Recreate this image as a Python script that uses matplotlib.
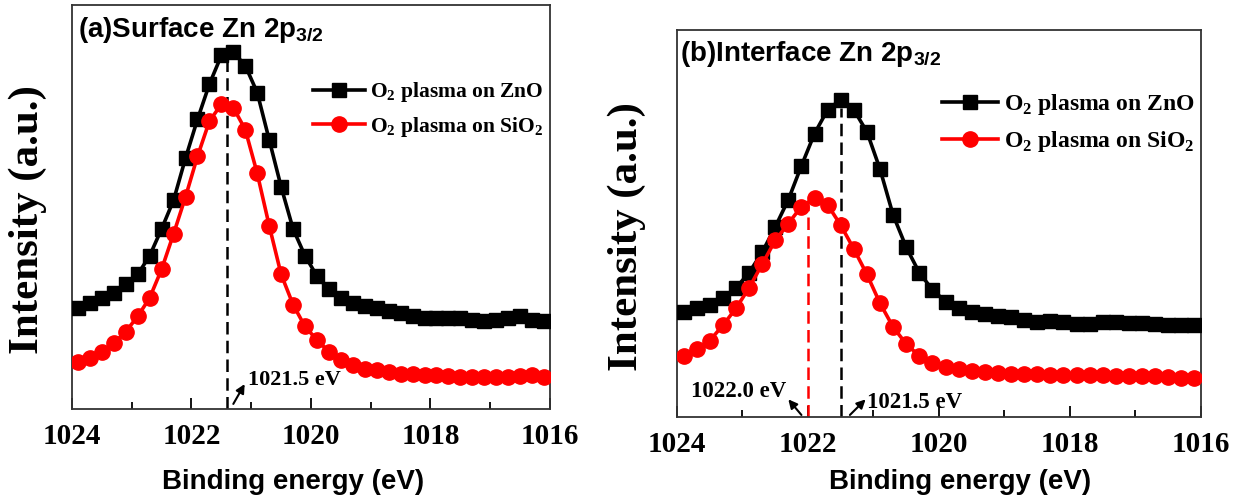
import numpy as np
import matplotlib
matplotlib.use('Agg')
import matplotlib.pyplot as plt

# binding energy grid (eV), 0.2 eV step
energy = np.arange(1023.9, 1016.0, -0.2)

# (a) surface Zn 2p3/2
surf_zno = [300, 315, 330, 345, 370, 400, 455, 535, 620, 745, 860, 965, 1050, 1060, 1020, 940,
            800, 660, 535, 455, 395, 355, 330, 315, 305, 300, 290, 285, 275, 270, 270, 270,
            270, 265, 260, 265, 270, 275, 265, 260]
surf_sio2 = [140, 150, 170, 195, 230, 275, 330, 415, 520, 630, 750, 855, 905, 895, 830, 700,
             545, 400, 310, 245, 205, 170, 145, 130, 120, 115, 110, 105, 105, 100, 100, 97,
             95, 95, 95, 95, 95, 97, 100, 95]

# (b) interface Zn 2p3/2
int_zno = [310, 320, 330, 350, 380, 425, 485, 560, 640, 740, 835, 905, 935, 905, 840, 730,
           595, 500, 425, 375, 340, 320, 308, 302, 298, 295, 285, 280, 282, 280, 275, 275,
           280, 280, 277, 277, 273, 270, 270, 270]
int_sio2 = [180, 200, 225, 270, 320, 380, 450, 520, 570, 620, 645, 625, 565, 495, 420, 335,
            265, 215, 180, 160, 148, 140, 135, 132, 130, 128, 127, 126, 125, 125, 124, 123,
            123, 122, 122, 120, 120, 118, 115, 115]

labels = ['O$_\\mathdefault{2}$ plasma on ZnO', 'O$_\\mathdefault{2}$ plasma on SiO$_\\mathdefault{2}$']
xticks = [1024, 1022, 1020, 1018, 1016]

serif = 'Liberation Serif'
sans = 'Liberation Sans'

fig = plt.figure(figsize=(12.39, 4.99), dpi=100)
ax1 = fig.add_axes([0.0581, 0.1804, 0.3858, 0.8096])
ax2 = fig.add_axes([0.5464, 0.1643, 0.4229, 0.7756])

arrow = dict(arrowstyle='-|>', color='black', lw=1.5, mutation_scale=13, shrinkA=0, shrinkB=0)


def style(ax, ymax):
    ax.set_xlim(1024, 1016)
    ax.set_ylim(0, ymax)
    ax.set_xticks(xticks)
    ax.set_xticks(np.arange(1023, 1016, -2), minor=True)
    ax.set_yticks([])
    ax.tick_params(axis='x', which='major', direction='in', length=8, width=1.3, pad=10)
    ax.tick_params(axis='x', which='minor', direction='in', length=5, width=1.3)
    for lab in ax.get_xticklabels():
        lab.set_fontfamily(serif)
        lab.set_fontweight('bold')
        lab.set_fontsize(21)
    for s in ax.spines.values():
        s.set_linewidth(1.3)
        s.set_color('#333333')


def draw(ax, y1, y2):
    ax.plot(energy, y1, color='black', lw=2.6, marker='s', ms=9.8, label=labels[0], zorder=3)
    ax.plot(energy, y2, color='red', lw=2.6, marker='o', ms=11, label=labels[1], zorder=3)


# panel (a)
draw(ax1, surf_zno, surf_sio2)
style(ax1, 1200)
ax1.plot([1021.4, 1021.4], [0, 1035], color='black', lw=1.8, ls=(0, (5, 2.5)), zorder=2)
ax1.annotate('', xy=(1021.11, 74), xytext=(1021.30, 15), arrowprops=arrow)
ax1.text(1021.05, 72, '1021.5 eV', fontfamily=serif, fontweight='bold', fontsize=16, va='baseline')
ax1.text(0.0126, 0.921, '(a)Surface Zn 2p$_\\mathdefault{3/2}$', transform=ax1.transAxes,
         fontfamily=sans, fontweight='bold', fontsize=20, va='baseline')
ax1.legend(loc='center left', bbox_to_anchor=(0.505, 0.741), frameon=False,
           prop={'family': serif, 'weight': 'bold', 'size': 15.5},
           handlelength=2.4, handletextpad=0.25, borderpad=0, borderaxespad=0, labelspacing=0.5)

# panel (b)
draw(ax2, int_zno, int_sio2)
style(ax2, 1140)
ax2.plot([1021.5, 1021.5], [0, 910], color='black', lw=1.8, ls=(0, (5, 2.5)), zorder=2)
ax2.plot([1022.0, 1022.0], [0, 630], color='red', lw=1.8, ls=(0, (5, 2.5)), zorder=2)
ax2.annotate('', xy=(1022.30, 52), xytext=(1022.10, 6), arrowprops=arrow)
ax2.annotate('', xy=(1021.12, 52), xytext=(1021.36, 6), arrowprops=arrow)
ax2.text(1023.79, 59, '1022.0 eV', fontfamily=serif, fontweight='bold', fontsize=16.5, va='baseline')
ax2.text(1021.10, 27, '1021.5 eV', fontfamily=serif, fontweight='bold', fontsize=16.5, va='baseline')
ax2.text(0.006, 0.919, '(b)Interface Zn 2p$_\\mathdefault{3/2}$', transform=ax2.transAxes,
         fontfamily=sans, fontweight='bold', fontsize=20, va='baseline')
ax2.legend(loc='center left', bbox_to_anchor=(0.505, 0.760), frameon=False,
           prop={'family': serif, 'weight': 'bold', 'size': 17},
           handlelength=2.4, handletextpad=0.25, borderpad=0, borderaxespad=0, labelspacing=0.5)

# axis labels
fig.text(28 / 1239, 1 - 220 / 499, 'Intensity (a.u.)', rotation=90, ha='center', va='center',
         fontfamily=serif, fontweight='bold', fontsize=31)
fig.text(627 / 1239, 1 - 237 / 499, 'Intensity (a.u.)', rotation=90, ha='center', va='center',
         fontfamily=serif, fontweight='bold', fontsize=31)
fig.text(293 / 1239, 1 - 482 / 499, 'Binding energy (eV)', ha='center', va='center',
         fontfamily=sans, fontweight='bold', fontsize=20)
fig.text(960 / 1239, 1 - 482 / 499, 'Binding energy (eV)', ha='center', va='center',
         fontfamily=sans, fontweight='bold', fontsize=20)

fig.savefig('out.png', dpi=100)
